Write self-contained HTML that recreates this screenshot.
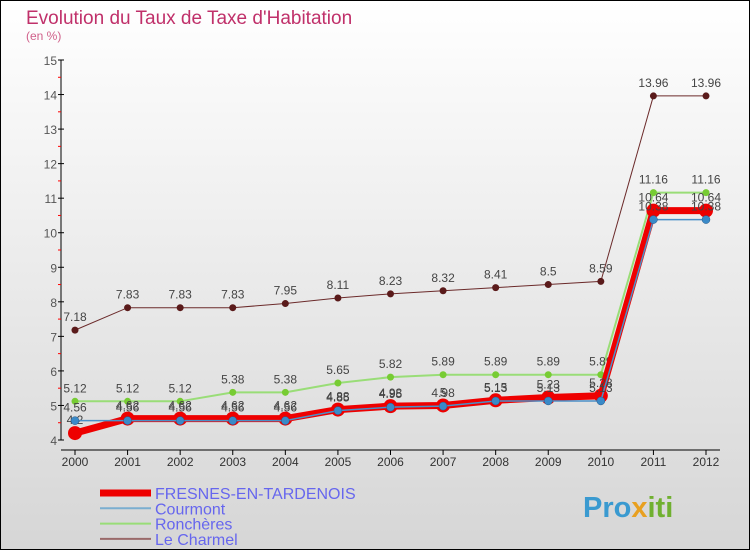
<!DOCTYPE html>
<html><head><meta charset="utf-8"><style>
body{margin:0}
svg{display:block;font-family:"Liberation Sans",sans-serif}
</style></head><body>
<svg width="750" height="550" viewBox="0 0 750 550">
<defs><linearGradient id="bg" x1="0" y1="0" x2="0" y2="1"><stop offset="0" stop-color="#ffffff"/><stop offset="1" stop-color="#d6d6d6"/></linearGradient></defs>
<rect x="0.5" y="0.5" width="749" height="549" fill="url(#bg)" stroke="#000"/>
<text x="26" y="24" font-size="19" fill="#c0306a">Evolution du Taux de Taxe d'Habitation</text>
<text x="26" y="40" font-size="12" fill="#d0608a">(en %)</text>
<g id="axes"></g>
<g id="series"></g>
<g id="legend"></g>
<text x="583" y="517" font-size="29" font-weight="bold" fill="#3a9ad0">Pro<tspan fill="#e8a020">x</tspan><tspan fill="#70b030">iti</tspan></text>
</svg>
<script>
const years=[2000,2001,2002,2003,2004,2005,2006,2007,2008,2009,2010,2011,2012];
const fresnes=[4.2,4.62,4.62,4.62,4.62,4.88,4.98,5,5.15,5.23,5.28,10.64,10.64];
const courmont=[4.56,4.56,4.56,4.56,4.56,4.85,4.95,4.98,5.13,5.13,5.13,10.38,10.38];
const roncheres=[5.12,5.12,5.12,5.38,5.38,5.65,5.82,5.89,5.89,5.89,5.89,11.16,11.16];
const charmel=[7.18,7.83,7.83,7.83,7.95,8.11,8.23,8.32,8.41,8.5,8.59,13.96,13.96];
const yTicks=[4,5,6,7,8,9,10,11,12,13,14,15];
const NS="http://www.w3.org/2000/svg";
const x=i=>75+i*(706-75)/12;
const y=v=>440-(v-4)*(380/11);
function mk(p,t,a){const e=document.createElementNS(NS,t);for(const k in a)e.setAttribute(k,a[k]);p.appendChild(e);return e;}
const ax=document.getElementById('axes');
let e=mk(ax,'line',{x1:61,y1:60,x2:61,y2:440,stroke:'#000'});


e=mk(ax,'line',{x1:61,y1:450,x2:720,y2:450,stroke:'#000'});


yTicks.forEach(v=>{
 mk(ax,'line',{x1:58,y1:y(v),x2:64,y2:y(v),stroke:'#000'});
 if(v<15)mk(ax,'line',{x1:58,y1:y(v+0.5),x2:61,y2:y(v+0.5),stroke:'#f00'});
 const t=mk(ax,'text',{x:57,y:y(v)+5,'font-size':12,fill:'#555','text-anchor':'end'});t.textContent=v;
 
 
});
years.forEach((yr,i)=>{
 mk(ax,'line',{x1:x(i),y1:450,x2:x(i),y2:455,stroke:'#000'});
 const t=mk(ax,'text',{x:x(i),y:466,'font-size':12,fill:'#333','text-anchor':'middle'});t.textContent=yr;
 
 
});
const sg=document.getElementById('series');
const defs=[
 {d:charmel,c:'#6b2a2a',w:1,r:3.5,fc:'#5a1a1a',n:'le-charmel'},
 {d:roncheres,c:'#99dd77',w:2,r:3.5,fc:'#77cc33',n:'roncheres'},
 {d:fresnes,c:'#ee0000',w:7,r:7,fc:'#ee0000',n:'fresnes'},
 {d:courmont,c:'#4a90c8',w:1.5,r:4,fc:'#3a8ac8',n:'courmont'}];
defs.forEach(s=>{
 const g=mk(sg,'g',{});
 
 
 const p=mk(g,'polyline',{points:s.d.map((v,i)=>x(i)+','+y(v)).join(' '),fill:'none',stroke:s.c,'stroke-width':s.w});
 
 
 s.d.forEach((v,i)=>{
  const c=mk(g,'circle',{cx:x(i),cy:y(v),r:s.r,fill:s.fc,stroke:s.n=='courmont'?'#2a5a88':'none','stroke-width':0.5});
  
  
  const t=mk(g,'text',{x:x(i),y:y(v)-9,'font-size':12,fill:'#444','text-anchor':'middle'});t.textContent=v;
  
  
 });
});
const lg=document.getElementById('legend');
const items=[['FRESNES-EN-TARDENOIS','#ee0000',7],['Courmont','#7aaed0',2],['Ronchères','#99dd77',2],['Le Charmel','#9a6a6a',2]];
items.forEach((it,i)=>{
 const yy=493+i*15.3;
 const g=mk(lg,'g',{});
 
 
 mk(g,'line',{x1:100,y1:yy,x2:151,y2:yy,stroke:it[1],'stroke-width':it[2]});
 const t=mk(g,'text',{x:155,y:yy+6,'font-size':16,fill:'#6666ee'});t.textContent=it[0];
});
</script>
</body></html>
